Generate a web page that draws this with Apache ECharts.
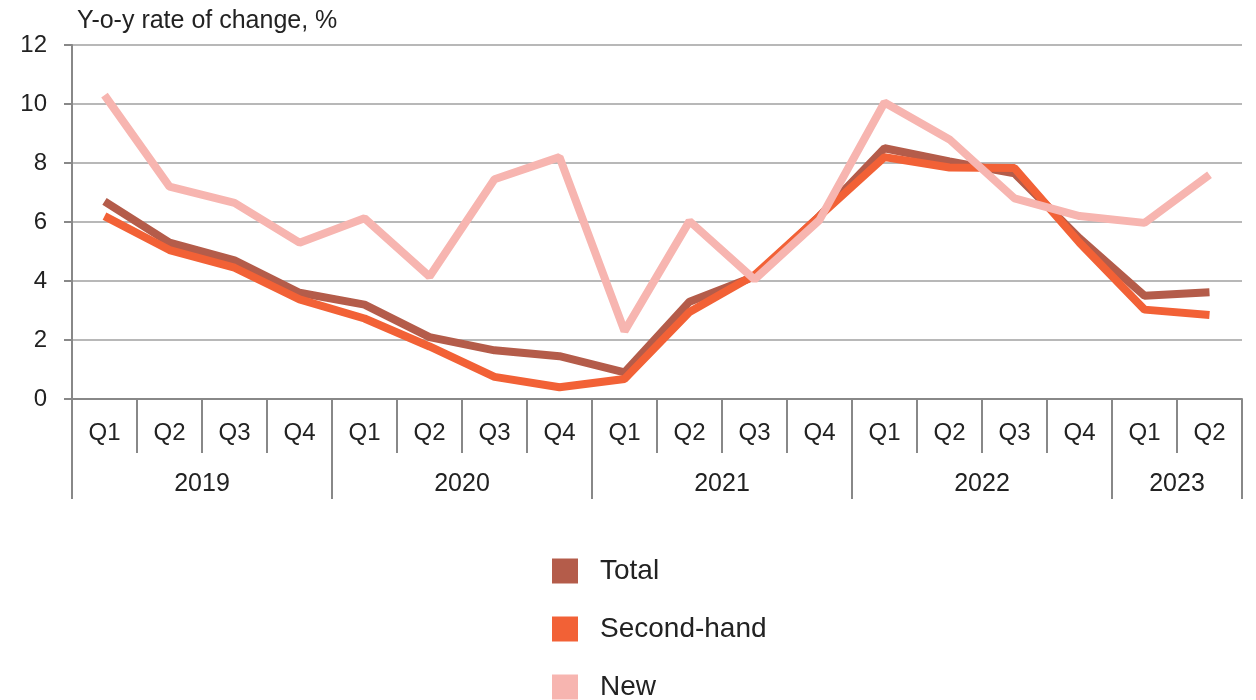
<!DOCTYPE html>
<html>
<head>
<meta charset="utf-8">
<script src="https://cdn.jsdelivr.net/npm/echarts@6/dist/echarts.min.js"></script>
<style>html,body{margin:0;padding:0;background:#fff}#c{width:1256px;height:700px}</style>
</head>
<body>
<div id="c"></div>
<script>
const quarters = ['Q1','Q2','Q3','Q4','Q1','Q2','Q3','Q4','Q1','Q2','Q3','Q4','Q1','Q2','Q3','Q4','Q1','Q2'];
const years = ['2019','2020','2021','2022','2023'];
const quartersPerYear = [4,4,4,4,2];
const total = [6.7,5.3,4.7,3.6,3.2,2.1,1.65,1.45,0.9,3.3,4.15,6.2,8.5,8.05,7.65,5.45,3.5,3.62];
const secondHand = [6.2,5.05,4.45,3.38,2.73,1.78,0.75,0.4,0.68,2.95,4.2,6.2,8.2,7.85,7.83,5.3,3.03,2.85];
const newHomes = [10.3,7.2,6.65,5.3,6.13,4.15,7.45,8.2,2.3,6.03,4.05,6.07,10.05,8.8,6.8,6.2,5.97,7.6];
const yTicks = [0,2,4,6,8,10,12];

const font = 'Liberation Sans, Arial, sans-serif';
const boundaries = [0];
const centers = [];
quartersPerYear.forEach((n,i)=>{ const s = boundaries[boundaries.length-1]; centers.push(s + n/2); boundaries.push(s + n); });

const chart = echarts.init(document.getElementById('c'));
chart.setOption({
  animation: false,
  title: {text: 'Y-o-y rate of change, %', left: 72, top: 4, textStyle: {fontFamily: font, fontSize: 25, fontWeight: 'normal', color: '#222'}},
  grid: {left: 72, right: 14, top: 45, bottom: 301},
  legend: {
    orient: 'vertical', left: 547, top: 552, height: 170, itemWidth: 26, itemHeight: 25, itemGap: 30,
    icon: 'rect', textStyle: {fontFamily: font, fontSize: 28, lineHeight: 26, color: '#222', padding: [0,0,0,17]}
  },
  xAxis: [
    {
      type: 'category', data: quarters, boundaryGap: true, position: 'bottom',
      axisLine: {lineStyle: {color: '#888', width: 2}},
      axisTick: {show: true, length: 54, lineStyle: {color: '#888', width: 2}},
      axisLabel: {interval: 0, margin: 22, fontFamily: font, fontSize: 24, color: '#222'},
      splitLine: {show: false}
    },
    {
      type: 'value', min: 0, max: boundaries[boundaries.length-1], position: 'bottom',
      axisLine: {show: false},
      axisTick: {show: true, length: 100, customValues: boundaries, lineStyle: {color: '#888', width: 2}},
      axisLabel: {customValues: centers, margin: 73, fontFamily: font, fontSize: 25, color: '#222',
        formatter: v => years[centers.indexOf(v)] || ''},
      splitLine: {show: false}
    }
  ],
  yAxis: {
    type: 'value', min: 0, max: 12, interval: 2,
    axisLine: {show: true, lineStyle: {color: '#888', width: 2}},
    axisTick: {show: true, length: 8, lineStyle: {color: '#888', width: 2}},
    axisLabel: {margin: 25, fontFamily: font, fontSize: 24, color: '#222', customValues: yTicks},
    splitLine: {lineStyle: {color: '#b8b8b8', width: 2}}
  },
  series: [
    {name: 'Total', type: 'line', data: total, symbol: 'none', itemStyle: {color: '#b45c4a'}, lineStyle: {width: 8, color: '#b45c4a'}},
    {name: 'Second-hand', type: 'line', data: secondHand, symbol: 'none', itemStyle: {color: '#f26136'}, lineStyle: {width: 8, color: '#f26136'}},
    {name: 'New', type: 'line', data: newHomes, symbol: 'none', itemStyle: {color: '#f7b5b0'}, lineStyle: {width: 8, color: '#f7b5b0'}}
  ]
});
</script>
</body>
</html>
